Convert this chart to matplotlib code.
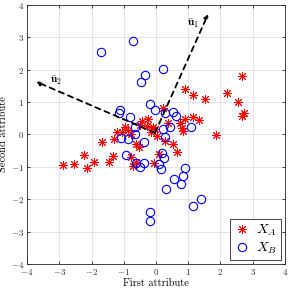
import matplotlib
matplotlib.use('Agg')
from matplotlib import pyplot as plt

plt.rcParams['font.family'] = 'serif'
plt.rcParams['font.serif'] = ['cmr10', 'DejaVu Serif']
plt.rcParams['mathtext.fontset'] = 'cm'
plt.rcParams['axes.formatter.use_mathtext'] = True

# X_A points (red stars)
xa = [-2.87, -2.54, -2.23, -2.13, -1.91, -1.47, -1.33, -1.68, -1.30,
      -1.04, -0.86, -0.78, -0.62, -0.52, -0.78, -0.71, -0.63, -0.96,
      -0.42, -0.26, -0.28, -0.50, -0.08, -0.15, 0.02, 0.21, 0.38, -0.03,
      0.89, 1.16, 1.52, 2.19, 2.56, 2.74, 2.67, 2.66, 1.86, 1.15, 1.34,
      0.90, 0.73, 0.80, 0.83, 0.28, 0.52, 0.66, 0.09, -0.06, -1.22]
ya = [-0.94, -0.92, -0.64, -1.05, -0.86, -0.86, -0.67, -0.22, -0.14,
      0.08, 0.14, 0.01, -0.28, -0.38, -0.70, -0.96, -0.86, 0.24,
      0.43, 0.48, 0.26, 0.29, 0.22, 0.06, -0.04, 0.83, 0.35, 0.16,
      1.39, 1.23, 1.09, 1.29, 0.99, 0.65, 0.56, 1.81, -0.02, 0.55, 0.45,
      0.48, 0.35, 0.20, 0.10, -0.20, -0.30, -0.54, -0.60, -0.88, 0.09]

# X_B points (blue circles)
xb = [-1.70, -0.72, 0.22, -0.34, -0.46, -0.19, -1.13, -1.16, -0.82, -0.02,
      0.28, 0.52, 0.62, -0.64, -0.64, -1.08, -0.86, -0.37, 0.43, 1.10,
      0.22, 0.27, -0.94, -0.62, -0.50, -0.37, 0.18, 0.24, 0.10, 0.15,
      0.91, 0.85, 0.55, 0.79, 0.30, 1.40, 1.16, -0.19, -0.17]
yb = [2.54, 2.89, 2.01, 1.84, 1.63, 0.93, 0.76, 0.65, 0.53, 0.76,
      0.66, 0.68, 0.57, 0.22, 0.01, -0.10, -0.13, -0.23, 0.24, 0.24,
      0.16, -0.09, -0.63, -0.89, -1.00, -0.88, -0.57, -0.74, -0.92, -1.06,
      -1.03, -1.28, -1.38, -1.52, -1.68, -1.98, -2.21, -2.41, -2.66]

# principal directions
mean_pt = [-0.03, 0.05]
u1_end = [1.62, 3.72]
u2_end = [-3.72, 1.63]

fig = plt.figure(figsize=(2.91, 2.91), dpi=100)
ax = fig.add_axes([0.093, 0.093, 0.886, 0.890])

ax.plot(xa, ya, linestyle='none', marker=(8, 2, 0), markersize=6.5,
        markeredgewidth=0.7, color='red', label=r'$X_A$')
ax.plot(xb, yb, linestyle='none', marker='o', markersize=6,
        markerfacecolor='none', markeredgewidth=0.8, color='blue', label=r'$X_B$')

for end in [u1_end, u2_end]:
    ax.annotate('', xy=end, xytext=mean_pt,
                arrowprops=dict(arrowstyle='-|>', linestyle=(0, (3, 2.5)),
                                color='black', lw=1.3, mutation_scale=6,
                                shrinkA=0, shrinkB=0))

ax.text(1.16, 3.43, r'$\bar{\mathbf{u}}_1$', fontsize=8, ha='center', va='center')
ax.text(-3.1, 1.65, r'$\bar{\mathbf{u}}_2$', fontsize=8, ha='center', va='center')

ax.set_xlim(-4, 4)
ax.set_ylim(-4, 4)
ax.set_xticks(range(-4, 5))
ax.set_yticks(range(-4, 5))
ax.tick_params(direction='in', labelsize=6.5, top=True, right=True,
               length=2.5, width=0.5, pad=2, labelcolor='#333333')
ax.grid(True, color='#e0e0e0', linewidth=0.6)
ax.set_axisbelow(True)
for s in ax.spines.values():
    s.set_linewidth(0.6)
    s.set_color('#262626')

ax.set_xlabel('First attribute', fontsize=7.5, labelpad=1)
ax.set_ylabel('Second attribute', fontsize=7.5, labelpad=2)

leg = ax.legend(loc='lower right', fontsize=10, fancybox=False, framealpha=1,
                edgecolor='#262626', borderpad=0.3, handletextpad=0.4,
                handlelength=1.2, labelspacing=0.2, borderaxespad=0.25)
leg.get_frame().set_linewidth(0.6)

fig.savefig('out.png', dpi=100)
